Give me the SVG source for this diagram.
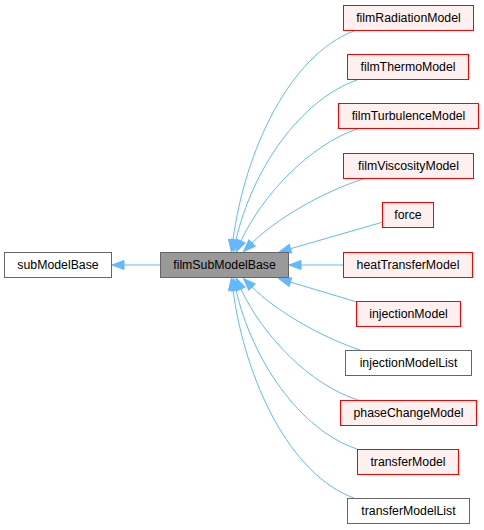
<svg xmlns="http://www.w3.org/2000/svg" width="484" height="530" viewBox="0 0 484 530">
<style>
  .n rect { stroke-width: 1; }
  .red rect { fill: #fff0f0; stroke: #ff0000; }
  .gray rect { fill: #999999; stroke: #666666; }
  .white rect { fill: #ffffff; stroke: #666666; }
  text { font-family: "Liberation Sans", Arial, Helvetica, sans-serif; font-size: 12.3px; fill: #000000; text-anchor: middle; }
  .e path { fill: none; stroke: #63b8ff; stroke-width: 1; marker-end: url(#arr); }
</style>
<defs>
  <marker id="arr" markerUnits="userSpaceOnUse" markerWidth="14" markerHeight="12" viewBox="0 0 14 12" refX="1" refY="6" orient="auto" overflow="visible">
    <path d="M1,1.5 L13,6 L1,10.5 Z" fill="#63b8ff" stroke="#63b8ff" stroke-width="1"/>
  </marker>
</defs>
<rect width="484" height="530" fill="#ffffff"/>
<g id="connectors" class="e">
  <path d="M160,265 L124,265"/>
  <path d="M354,31 C290,55 245,150 233,240"/>
  <path d="M357,80 C300,100 252,170 236,240"/>
  <path d="M357,129 C310,145 262,195 241,241"/>
  <path d="M363,179 C320,193 275,220 252,243"/>
  <path d="M383,222 L290.5,248.7"/>
  <path d="M343,265 L301,265"/>
  <path d="M357,302 L290.4,282.1"/>
  <path d="M363,351 C320,337 275,310 252,287"/>
  <path d="M358,400 C310,385 262,335 241,289"/>
  <path d="M357,449 C300,430 252,360 236,290"/>
  <path d="M354,498 C290,475 245,380 233,290"/>
</g>
<g id="subModelBase" class="n white"><rect x="4.5" y="252.5" width="107" height="25"/><text x="58" y="269.4">subModelBase</text></g>
<g id="filmSubModelBase" class="n gray"><rect x="160.5" y="252.5" width="128" height="25"/><text x="224.5" y="269.4">filmSubModelBase</text></g>
<g id="filmRadiationModel" class="n red"><rect x="343.5" y="5.5" width="130" height="25"/><text x="408.5" y="22.4">filmRadiationModel</text></g>
<g id="filmThermoModel" class="n red"><rect x="347.5" y="54.5" width="121" height="25"/><text x="408" y="71.4">filmThermoModel</text></g>
<g id="filmTurbulenceModel" class="n red"><rect x="338.5" y="103.5" width="140" height="25"/><text x="408.5" y="120.4">filmTurbulenceModel</text></g>
<g id="filmViscosityModel" class="n red"><rect x="343.5" y="153.5" width="130" height="25"/><text x="408.5" y="170.4">filmViscosityModel</text></g>
<g id="force" class="n red"><rect x="382.5" y="202.5" width="51" height="25"/><text x="408" y="219.4">force</text></g>
<g id="heatTransferModel" class="n red"><rect x="343.5" y="252.5" width="129" height="25"/><text x="408" y="269.4">heatTransferModel</text></g>
<g id="injectionModel" class="n red"><rect x="356.5" y="301.5" width="104" height="25"/><text x="408.5" y="318.4">injectionModel</text></g>
<g id="injectionModelList" class="n white"><rect x="345.5" y="350.5" width="126" height="25"/><text x="408.5" y="367.4">injectionModelList</text></g>
<g id="phaseChangeModel" class="n red"><rect x="340.5" y="400.5" width="136" height="25"/><text x="408.5" y="417.4">phaseChangeModel</text></g>
<g id="transferModel" class="n red"><rect x="357.5" y="449.5" width="101" height="25"/><text x="408" y="466.4">transferModel</text></g>
<g id="transferModelList" class="n white"><rect x="347.5" y="498.5" width="122" height="25"/><text x="408.5" y="515.4">transferModelList</text></g>
</svg>
